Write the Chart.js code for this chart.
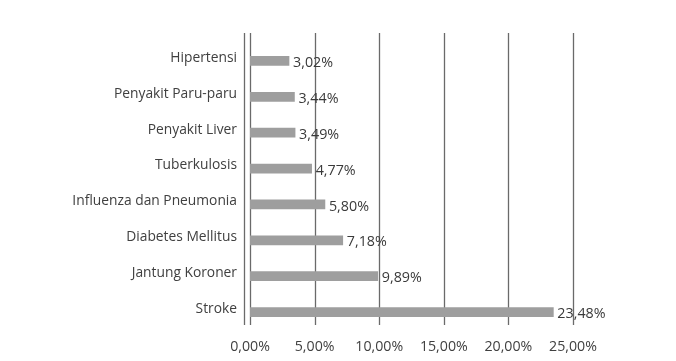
<!DOCTYPE html>
<html>
<head>
<meta charset="utf-8">
<script src="https://cdn.jsdelivr.net/npm/chart.js@4"></script>
<style>
html,body{margin:0;padding:0;background:#fff;}
#wrap{width:676px;height:361px;position:relative;}
</style>
</head>
<body>
<div id="wrap"><canvas id="c" width="676" height="361"></canvas></div>
<script>
const categories = ["Hipertensi","Penyakit Paru-paru","Penyakit Liver","Tuberkulosis","Influenza dan Pneumonia","Diabetes Mellitus","Jantung Koroner","Stroke"];
const values = [3.02, 3.44, 3.49, 4.77, 5.80, 7.18, 9.89, 23.48];
const xTicks = [0, 5, 10, 15, 20, 25];

function fmt(v){ return v.toFixed(2).replace('.', ',') + '%'; }

const LINE_TOP = 33, LINE_BOTTOM = 325;

const gridPlugin = {
  id: 'gridLines',
  beforeDatasetsDraw(chart){
    const ctx = chart.ctx, xs = chart.scales.x;
    ctx.save();
    ctx.strokeStyle = '#6a6a6a';
    ctx.lineWidth = 1.3;
    xTicks.forEach(t => {
      const px = Math.round(xs.getPixelForValue(t)) + 0.5;
      ctx.beginPath(); ctx.moveTo(px, LINE_TOP); ctx.lineTo(px, LINE_BOTTOM); ctx.stroke();
    });
    const px0 = Math.round(xs.getPixelForValue(0)) - 5.5;
    ctx.beginPath(); ctx.moveTo(px0, LINE_TOP); ctx.lineTo(px0, LINE_BOTTOM); ctx.stroke();
    ctx.restore();
  }
};

const labelPlugin = {
  id: 'valueLabels',
  afterDatasetsDraw(chart){
    const ctx = chart.ctx;
    const meta = chart.getDatasetMeta(0);
    ctx.save();
    ctx.font = '14.3px "Open Sans"';
    ctx.fillStyle = '#3a3a3a';
    ctx.textAlign = 'left';
    ctx.textBaseline = 'middle';
    meta.data.forEach((bar, i) => {
      ctx.fillText(fmt(values[i]), bar.x + 4, bar.y + 2);
    });
    ctx.restore();
  }
};

new Chart(document.getElementById('c'), {
  type: 'bar',
  data: {
    labels: categories,
    datasets: [{
      data: values,
      backgroundColor: '#9e9e9e',
      barThickness: 9,
      borderWidth: 0
    }]
  },
  options: {
    indexAxis: 'y',
    responsive: false,
    animation: false,
    layout: { padding: { left: 0, right: 103, top: 43, bottom: 0 } },
    plugins: { legend: { display: false }, tooltip: { enabled: false } },
    scales: {
      x: {
        min: 0, max: 25,
        afterBuildTicks(scale){ scale.ticks = xTicks.map(v => ({value: v})); },
        afterFit(scale){ scale.height = 31; },
        grid: { display: false, drawTicks: false },
        border: { display: false },
        ticks: {
          padding: 8,
          color: '#404040',
          font: { family: '"Open Sans"', size: 14.2 },
          maxRotation: 0,
          callback: v => fmt(v)
        }
      },
      y: {
        afterFit(scale){ scale.width = 250; },
        grid: { display: false, drawTicks: false },
        border: { display: false },
        ticks: {
          padding: 13,
          labelOffset: -3,
          color: '#404040',
          font: { family: '"Open Sans"', size: 13.8 }
        }
      }
    }
  },
  plugins: [gridPlugin, labelPlugin]
});
</script>
</body>
</html>
